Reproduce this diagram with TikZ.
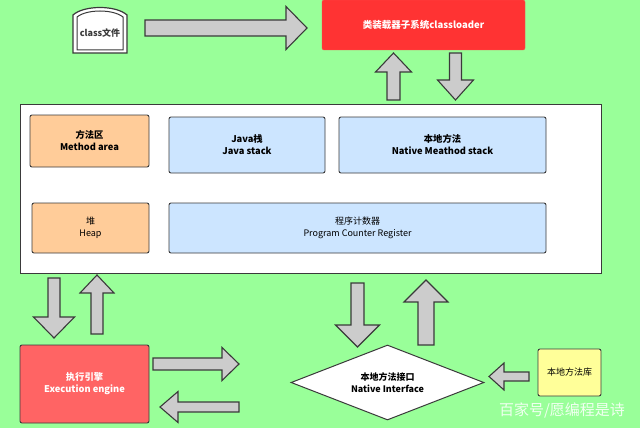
\documentclass[tikz,border=0pt]{standalone}
\usepackage{fontspec}
\setmainfont{Noto Sans CJK SC}
\usetikzlibrary{shapes.geometric}
\definecolor{bggreen}{HTML}{99FF99}
\definecolor{edge}{HTML}{3A3A3A}
\definecolor{arrowgray}{HTML}{CCCCCC}
\definecolor{loaderred}{HTML}{FF3333}
\definecolor{execred}{HTML}{FF6464}
\definecolor{peach}{HTML}{FFCC99}
\definecolor{paleblue}{HTML}{CCE5FF}
\definecolor{paleyellow}{HTML}{FFFF99}
\tikzset{
  barrow/.style={draw=edge, fill=arrowgray, line width=1.1pt, line join=miter},
  area/.style={draw=edge, line width=0.9pt, rounded corners=2pt, inner sep=1pt, align=center, font=\fontsize{9}{12}\selectfont},
  boldarea/.style={area, font=\fontsize{9.3}{12}\selectfont\bfseries},
}
\newcommand{\harrow}[6]{\draw[barrow] (#1,#4-#5) -- (#2,#4-#5) -- (#2,#4-#6) -- (#3,#4) -- (#2,#4+#6) -- (#2,#4+#5) -- (#1,#4+#5) -- cycle;}
\newcommand{\varrow}[6]{\draw[barrow] (#4-#5,#1) -- (#4-#5,#2) -- (#4-#6,#2) -- (#4,#3) -- (#4+#6,#2) -- (#4+#5,#2) -- (#4+#5,#1) -- cycle;}
\begin{document}
\begin{tikzpicture}[x=1pt,y=-1pt]
\fill[bggreen] (0,0) rectangle (640,428);
\useasboundingbox (0,0) rectangle (640,428);

% class file document
\draw[edge, fill=white, line width=1.2pt] (73,53) -- (73,15) .. controls (84,5) and (116,5) .. (127,15) -- (127,53) -- cycle;
\draw[edge, line width=1pt] (77,50) -- (77,17) .. controls (87,9) and (113,9) .. (123,17) -- (123,50) -- cycle;
\node[font=\fontsize{9}{11}\selectfont\bfseries, text=edge] (classfile) at (100,33) {class文件};

% class loader
\node[draw=red!70!white, fill=loaderred, rounded corners=2pt, minimum width=203pt, minimum height=50pt, text=white, font=\fontsize{9.5}{12}\selectfont\bfseries] (loader) at (423.5,25) {类装载器子系统classloader};

\harrow{145}{286}{307}{28}{8}{21.5}
\varrow{100}{72}{53}{393.5}{6.5}{18}
\varrow{53}{80}{100}{455.5}{6}{18}

% runtime data area
\node[draw=edge, fill=white, line width=1pt, minimum width=581pt, minimum height=169pt] (runtime) at (310.5,188.5) {};
\node[boldarea, fill=peach, minimum width=119pt, minimum height=52pt] (method) at (89.5,141) {方法区\\Method area};
\node[boldarea, fill=paleblue, minimum width=156pt, minimum height=56pt] (javastack) at (247,145) {Java栈\\Java stack};
\node[boldarea, fill=paleblue, minimum width=207pt, minimum height=56pt] (nativestack) at (442.5,145) {本地方法\\Native Meathod stack};
\node[area, fill=peach, minimum width=117pt, minimum height=50pt] (heap) at (90.5,228) {堆\\Heap};
\node[area, fill=paleblue, minimum width=377pt, minimum height=50pt] (pc) at (357.5,228) {程序计数器\\Program Counter Register};

% lower arrows
\varrow{278}{317}{338}{54}{6}{20.5}
\varrow{334}{293}{275}{97}{6}{17}
\harrow{153}{222}{239}{364}{6}{16.5}
\harrow{239}{178}{160}{407}{5}{15.5}
\varrow{283}{325}{347}{357.5}{6.5}{22}
\varrow{345}{302}{280}{426}{8}{22}
\harrow{529}{504}{489}{376.5}{4.5}{13.5}

% execution engine
\node[boldarea, fill=execred, text=white, minimum width=129pt, minimum height=78pt] (engine) at (84.5,384) {执行引擎\\Execution engine};

% native interface
\node[diamond, draw=edge, fill=white, line width=1pt, minimum width=193pt, minimum height=75pt, inner sep=0pt, align=center, font=\fontsize{9}{12}\selectfont\bfseries, aspect=2.57] (interface) at (387.5,382.5) {};
\node[align=center, font=\fontsize{9}{12}\selectfont\bfseries] (interfacetext) at (interface.center) {本地方法接口\\Native Interface};

% native library
\node[area, fill=paleyellow, minimum width=63pt, minimum height=47pt] (library) at (569.5,372.5) {本地方法库};

% watermark
\node[text=white, opacity=0.85, font=\fontsize{15}{18}\selectfont] (mark) at (562,410) {百家号/愿编程是诗};
\end{tikzpicture}
\end{document}
